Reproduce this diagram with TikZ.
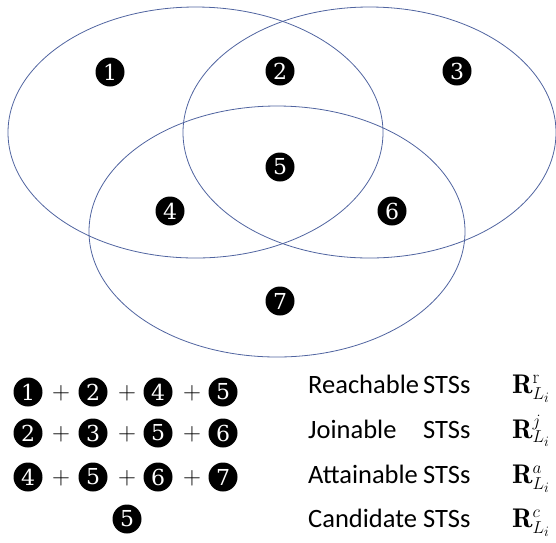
\documentclass[tikz,border=0pt]{standalone}
\usepackage{fontspec}
\newfontfamily\calfont{Carlito}
\newfontfamily\digfont{DejaVu Serif}
\begin{document}
\begin{tikzpicture}[x=1pt,y=-1pt,
  venn/.style={draw={rgb,255:red,80;green,100;blue,160}, line width=0.8pt},
  badge/.style={circle, fill=black, text=white, inner sep=0pt, minimum size=29pt, font=\digfont\fontsize{22}{22}\selectfont},
  plus/.style={inner sep=0pt, font=\fontsize{28}{28}\selectfont},
  lbl/.style={anchor=base west, inner sep=0pt, font=\calfont\fontsize{26.5}{26.5}\selectfont},
  rsym/.style={anchor=base west, inner sep=0pt, font=\fontsize{27}{27}\selectfont}]
\useasboundingbox (0,0) rectangle (556,542);
% Venn ellipses
\draw[venn] (195.5,132.5) ellipse [x radius=187.5, y radius=125.5];
\draw[venn] (369.5,132.5) ellipse [x radius=186.5, y radius=125.5];
\draw[venn] (277,231.5) ellipse [x radius=188, y radius=125.5];
% Region badges
\node[badge] (v1) at (110,72) {1};
\node[badge] (v2) at (280,71) {2};
\node[badge] (v3) at (457,71) {3};
\node[badge] (v5) at (280,167) {5};
\node[badge] (v4) at (170,211) {4};
\node[badge] (v6) at (392,211) {6};
\node[badge] (v7) at (280,301) {7};
% Row 1
\node[badge] (a1) at (28,392) {1};
\node[plus] (ap1) at (61,393) {$+$};
\node[badge] (a2) at (93,392) {2};
\node[plus] (ap2) at (127,393) {$+$};
\node[badge] (a3) at (158,392) {4};
\node[plus] (ap3) at (192,393) {$+$};
\node[badge] (a4) at (223,392) {5};
% Row 2
\node[badge] (b1) at (28,433) {2};
\node[plus] (bp1) at (61,434) {$+$};
\node[badge] (b2) at (93,433) {3};
\node[plus] (bp2) at (127,434) {$+$};
\node[badge] (b3) at (158,433) {5};
\node[plus] (bp3) at (192,434) {$+$};
\node[badge] (b4) at (223,433) {6};
% Row 3
\node[badge] (c1) at (28,477) {4};
\node[plus] (cp1) at (61,478) {$+$};
\node[badge] (c2) at (93,477) {5};
\node[plus] (cp2) at (127,478) {$+$};
\node[badge] (c3) at (158,477) {6};
\node[plus] (cp3) at (192,478) {$+$};
\node[badge] (c4) at (223,477) {7};
% Row 4
\node[badge] (d1) at (127,519) {5};
% Labels
\node[lbl] (t1) at (308,393) {Reachable};
\node[lbl] (s1) at (423,393) {STSs};
\node[lbl] (t2) at (308,438) {Joinable};
\node[lbl] (s2) at (423,438) {STSs};
\node[lbl] (t3) at (308,483) {Attainable};
\node[lbl] (s3) at (423,483) {STSs};
\node[lbl] (t4) at (308,527) {Candidate};
\node[lbl] (s4) at (423,527) {STSs};
% Symbols
\node[rsym] (r1) at (512,393) {$\mathbf{R}^{\mathrm{r}}_{L_i}$};
\node[rsym] (r2) at (512,438) {$\mathbf{R}^{j}_{L_i}$};
\node[rsym] (r3) at (512,483) {$\mathbf{R}^{a}_{L_i}$};
\node[rsym] (r4) at (512,527) {$\mathbf{R}^{c}_{L_i}$};
\end{tikzpicture}
\end{document}
